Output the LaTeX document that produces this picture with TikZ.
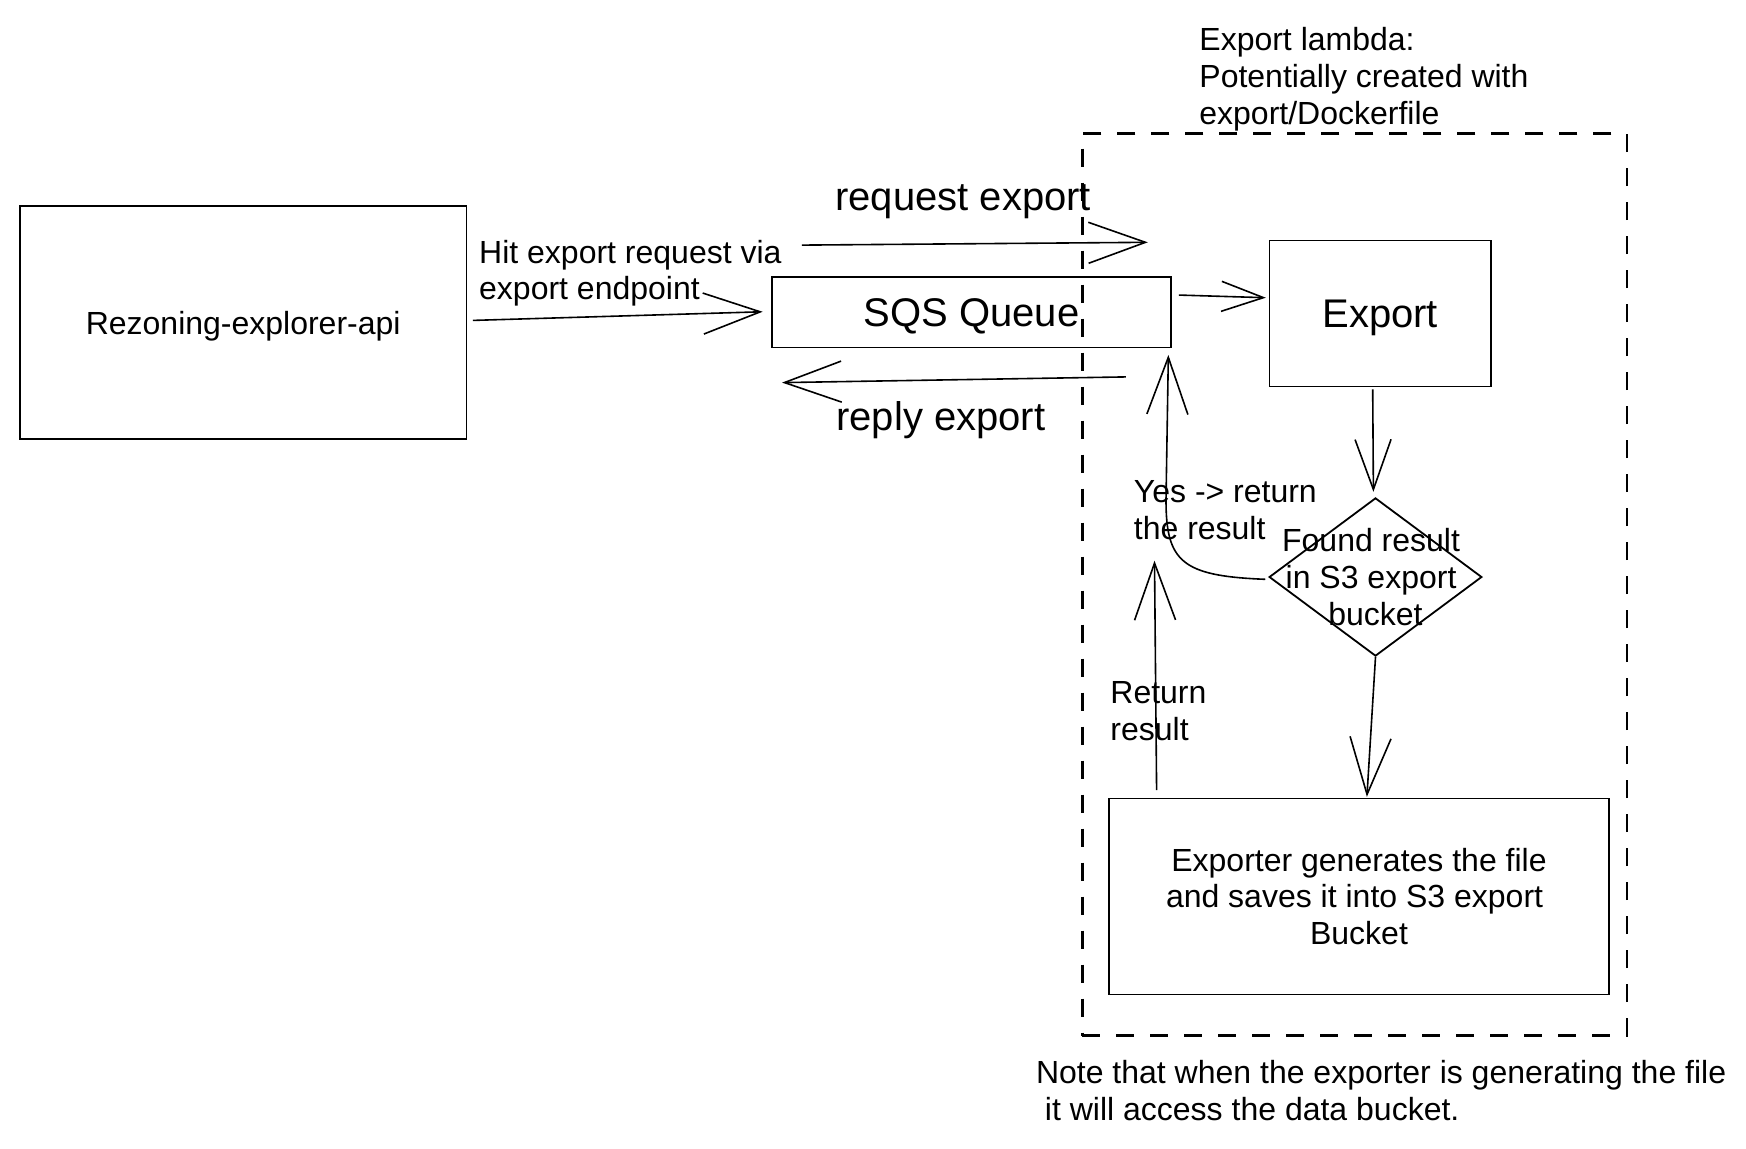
\documentclass[tikz,border=0pt]{standalone}
\usepackage{fontspec}
\setmainfont{Liberation Sans}
\usetikzlibrary{arrows.meta,shapes.geometric,calc}
\tikzset{
  box/.style={draw, line width=0.9pt, rectangle, inner sep=0pt, align=center},
  small/.style={font=\fontsize{16pt}{18.4pt}\selectfont},
  big/.style={font=\fontsize{20pt}{23pt}\selectfont},
  lbl/.style={inner sep=0pt, align=left, anchor=west},
  dashbox/.style={draw, line width=1.3pt, dash pattern=on 9pt off 8pt, inner sep=0pt},
  arr/.style={line width=0.8pt, -{Straight Barb[length=28.5pt,width=20.5pt]}},
  arrm/.style={line width=0.8pt, -{Straight Barb[length=25pt,width=18pt]}},
  arrs/.style={line width=0.8pt, -{Straight Barb[length=21pt,width=15pt]}},
}
\newcommand{\tsp}{\rule{0.278em}{0pt}}
\begin{document}
\begin{tikzpicture}[x=0.5pt,y=-0.5pt]
\useasboundingbox (0,0) rectangle (1746,1148);

% nodes
\node[box, small, text depth=0pt, minimum width=223.25pt, minimum height=116.35pt] (api) at (243.2,322.4) {Rezoning-explorer-api};
\node[box, big, text depth=0pt, minimum width=199.85pt, minimum height=35.05pt] (sqs) at (971.5,312.35) {SQS Queue};
\node[box, big, text depth=0pt, minimum width=110.8pt, minimum height=72.95pt] (exp) at (1380.2,313.5) {Export};
\node[draw, line width=0.9pt, diamond, minimum width=106.35pt, minimum height=79.1pt, inner sep=0pt,
      label={[small, align=center, inner sep=0pt]center:Found result\tsp\\in S3 export\tsp\\bucket}] (dia) at (1375.5,577) {};
\node[box, small, minimum width=250pt, minimum height=98pt] (gen) at (1359,896.4) {Exporter generates the file\\and saves it into S3 export\tsp\\Bucket};
\node[dashbox, minimum width=272.25pt, minimum height=451pt] (lambda) at (1354.55,584.6) {};

% labels
\node[lbl, small] (lamlbl) at (1199,79.5) {Export lambda:\\Potentially created with\\export/Dockerfile};
\node[lbl, big] (reqlbl) at (835,201.6) {request export};
\node[lbl, big] (replbl) at (836,419.8) {reply export};
\node[lbl, small] (hitlbl) at (478.8,273.3) {Hit export request via\\export endpoint};
\node[lbl, small] (yeslbl) at (1133.5,510.5) {Yes -> return\\the result};
\node[lbl, small] (retlbl) at (1110,711) {Return\\result};
\node[lbl, small] (notelbl) at (1035.6,1090.7) {Note that when the exporter is generating the file\\\hspace*{0.28em}it will access the data bucket.};

% free coordinates
\coordinate (reqstart) at ([shift={(31.1,-31.3)}]sqs.north west);
\coordinate (reqend) at (1147.8,242.3);
\coordinate (repstart) at ([shift={(-46.4,28.6)}]sqs.south east);
\coordinate (repend) at ([shift={(11.3,34.3)}]sqs.south west);
\coordinate (retend) at (1154.5,560.7);

% connectors
\draw[arr] ([shift={(5.5,-2)}]api.east) -- ([shift={(-8.1,-0.6)}]sqs.west);
\draw[arr] (reqstart) -- (reqend);
\draw[arrs] ([shift={(6.6,-17.3)}]sqs.east) -- ([shift={(-2.7,-15.8)}]exp.west);
\draw[arr] (repstart) -- (repend);
\draw[arrm] ([shift={(-7.5,1.9)}]exp.south) -- ([shift={(-2.1,-5.2)}]dia.north);
\draw[arr] (dia.south) -- ([shift={(7.9,-0.7)}]gen.north);
\draw[arr] ([shift={(48.5,-7.4)}]gen.north west) -- (retend);
\draw[arr] ([shift={(-3,2.3)}]dia.west) .. controls (1182,576) and (1166,562) .. (1166,500)
   -- ([shift={(-3.9,6.6)}]sqs.south east);
\end{tikzpicture}
\end{document}
